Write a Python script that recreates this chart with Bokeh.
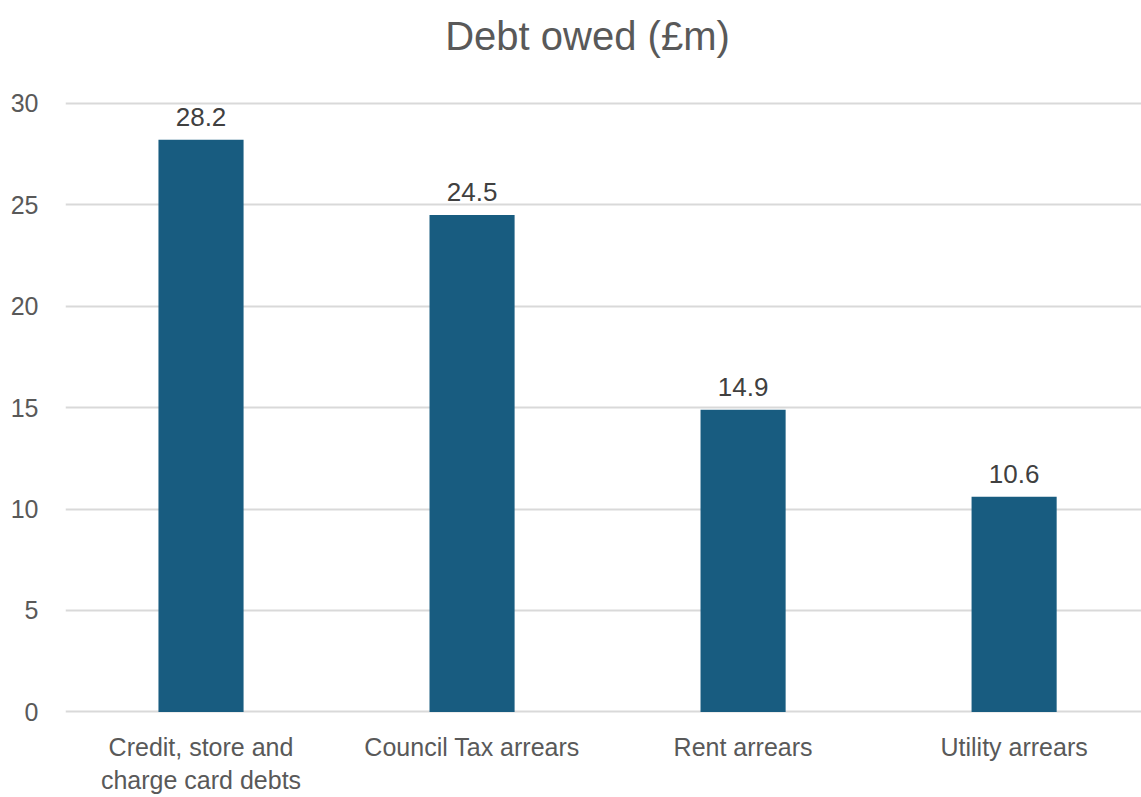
from bokeh.plotting import figure
from bokeh.models import Range1d, FixedTicker, ColumnDataSource, Label
from bokeh.core.properties import value
from bokeh.embed import file_html
from bokeh.resources import INLINE

title_text = "Debt owed (£m)"
categories = ["Credit, store and\ncharge card debts", "Council Tax arrears", "Rent arrears", "Utility arrears"]
debt_owed = [28.2, 24.5, 14.9, 10.6]
y_ticks = [0, 5, 10, 15, 20, 25, 30]

FONT = "Liberation Sans"
AXIS_GREY = "#595959"
BAR_COLOR = "#185C80"

xs = [i + 0.5 for i in range(len(categories))]
src = ColumnDataSource(dict(x=xs, y=debt_owed, label=[f"{v:.1f}" for v in debt_owed]))

# frame reaches the top of the canvas; headroom above 30 holds the title
p = figure(width=1141, height=797, output_backend="svg", toolbar_location=None,
           x_range=Range1d(0, 3.97), y_range=Range1d(-0.08, 35.07),
           min_border_left=65, min_border_right=0, min_border_top=0, min_border_bottom=83)

p.vbar(x="x", top="y", width=0.314, bottom=0, source=src, fill_color=BAR_COLOR, line_color=None)
p.text(x="x", y="y", text="label", source=src, text_align="center", text_baseline="bottom",
       y_offset=-14, text_font=value(FONT), text_font_size="26px", text_color="#404040")

title = Label(x=1.926, y=33.30, text=title_text,
              text_align="center", text_baseline="alphabetic", text_font=FONT,
              text_font_size="40px", text_color=AXIS_GREY)
p.add_layout(title)

p.outline_line_color = None
p.background_fill_color = "white"
p.border_fill_color = "white"

p.xgrid.grid_line_color = None
p.ygrid.grid_line_color = "#D9D9D9"
p.ygrid.grid_line_width = 2
p.ygrid.ticker = FixedTicker(ticks=y_ticks)
p.ygrid.level = "underlay"

p.yaxis.ticker = FixedTicker(ticks=y_ticks)
p.xaxis.ticker = FixedTicker(ticks=xs)
p.xaxis.major_label_overrides = {x: c for x, c in zip(xs, categories)}

for ax in (p.xaxis[0], p.yaxis[0]):
    ax.axis_line_color = None
    ax.major_tick_line_color = None
    ax.minor_tick_line_color = None
    ax.major_label_text_font = FONT
    ax.major_label_text_font_size = "25px"
    ax.major_label_text_color = AXIS_GREY

p.yaxis.major_label_standoff = 21
p.xaxis.major_label_standoff = 13

open("out.html", "w").write(file_html(p, INLINE))
